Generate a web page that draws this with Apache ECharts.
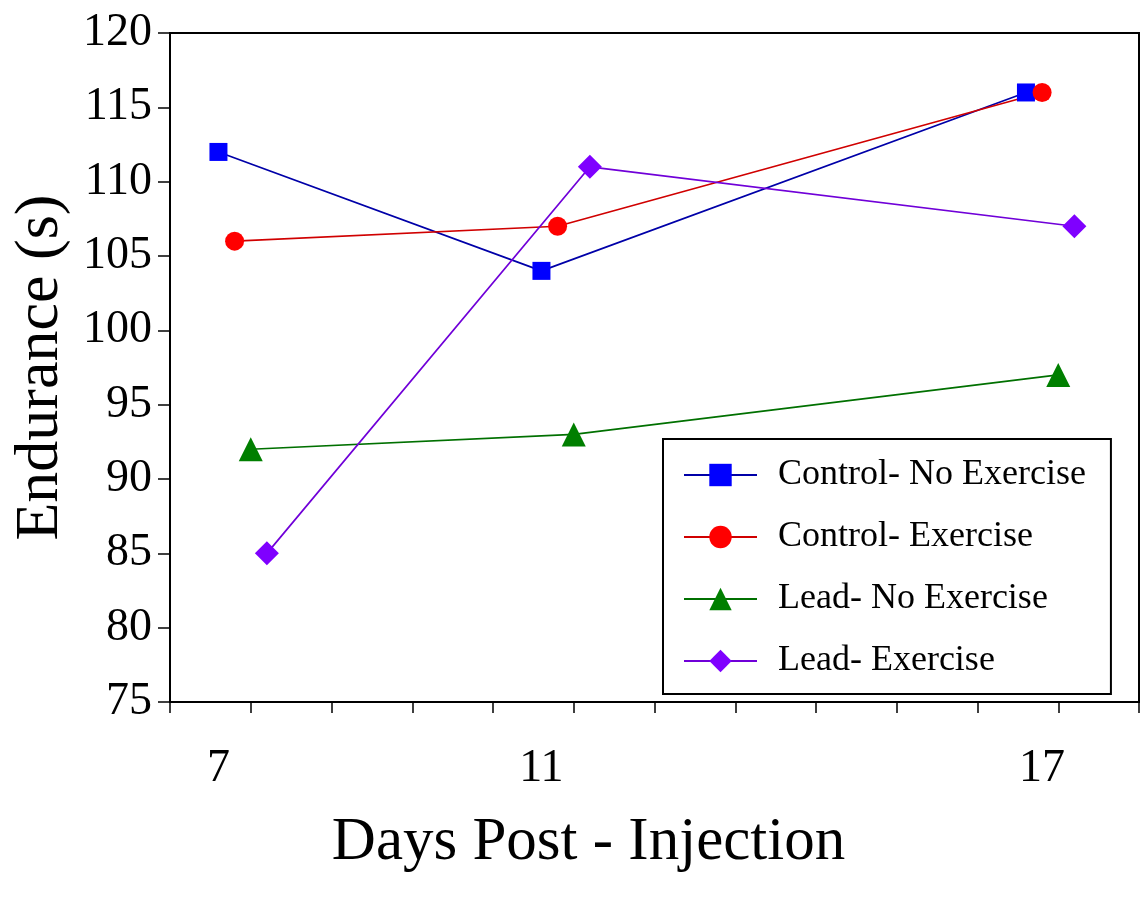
<!DOCTYPE html>
<html>
<head>
	<meta charset="UTF-8">
	<title>Endurance</title>
	<style type="text/css">
		html, body {
			margin: 0;
			padding: 0;
			background: #fff;
		}
		#chart {
			width: 1143px;
			height: 901px;
		}
	</style>
</head>
<body>
	<div id="chart"></div>

	<script type="text/javascript" src="https://cdn.jsdelivr.net/npm/echarts@6/dist/echarts.min.js"></script>
	<script type="text/javascript">
		// days on the x axis
		var days = [7, 11, 17]
		// series values
		var controlNoEx = [112, 104, 116]
		var controlEx = [106, 107, 116]
		var leadNoEx = [92, 93, 97]
		var leadEx = [85, 111, 107]
		var yTicks = [75, 80, 85, 90, 95, 100, 105, 110, 115, 120]

		var serif = "'Liberation Serif', 'Times New Roman', serif"

		// each group is drawn slightly shifted so the markers don't sit on top of each other
		function pts (vals, shift) {
			return vals.map(function (v, i) { return [days[i] + shift, v] })
		}

		function line (name, vals, shift, lineColor, dotColor, symbol, size) {
			return {
				name: name,
				type: 'line',
				data: pts(vals, shift),
				symbol: symbol,
				symbolSize: size,
				lineStyle: { color: lineColor, width: 1.7 },
				itemStyle: { color: dotColor },
				z: 3
			}
		}

		var chart = echarts.init(document.getElementById('chart'))

		var option = {
			animation: false,
			grid: {
				left: 170,
				right: 4,
				top: 33,
				bottom: 199,
				show: true,
				borderColor: '#000',
				borderWidth: 2
			},
			legend: {
				orient: 'vertical',
				left: 663,
				top: 439,
				padding: [18, 25, 15, 20],
				borderColor: '#000',
				borderWidth: 2,
				itemWidth: 73,
				itemHeight: 28,
				itemGap: 26,
				textStyle: {
					fontFamily: serif,
					fontSize: 36,
					color: '#000',
					padding: [0, 0, 0, 16]
				},
				data: ['Control- No Exercise', 'Control- Exercise', 'Lead- No Exercise', 'Lead- Exercise']
			},
			xAxis: {
				type: 'value',
				min: 6,
				max: 18,
				interval: 1,
				name: 'Days Post - Injection',
				nameLocation: 'middle',
				nameGap: 110,
				nameTextStyle: {
					fontFamily: serif,
					fontSize: 61,
					color: '#000',
					padding: [0, 132, 0, 0]
				},
				axisLine: { lineStyle: { color: '#000', width: 2 } },
				axisTick: { show: true, length: 11, lineStyle: { color: '#000', width: 1.5 } },
				axisLabel: {
					customValues: [days[0] - 0.4, days[1] - 0.4, days[2] - 0.2],
					formatter: function (v) { return String(Math.round(v)) },
					margin: 44,
					fontFamily: serif,
					fontSize: 46,
					color: '#000'
				},
				splitLine: { show: false }
			},
			yAxis: {
				type: 'value',
				min: yTicks[0],
				max: yTicks[yTicks.length - 1],
				interval: 5,
				name: 'Endurance (s)',
				nameLocation: 'middle',
				nameGap: 88,
				nameTextStyle: {
					fontFamily: serif,
					fontSize: 62,
					color: '#000'
				},
				axisLine: { show: true, lineStyle: { color: '#000', width: 2 } },
				axisTick: { show: true, length: 12, lineStyle: { color: '#000', width: 1.5 } },
				axisLabel: {
					margin: 18,
					fontFamily: serif,
					fontSize: 46,
					color: '#000'
				},
				splitLine: { show: false }
			},
			series: [
				line('Control- No Exercise', controlNoEx, -0.4, '#0000a8', '#0000ff', 'rect', 18),
				line('Control- Exercise', controlEx, -0.2, '#d00000', '#ff0000', 'circle', 19),
				line('Lead- No Exercise', leadNoEx, 0, '#007000', '#007f00', 'triangle', 24),
				line('Lead- Exercise', leadEx, 0.2, '#7000d8', '#7f00ff', 'diamond', 24)
			]
		}

		chart.setOption(option)
	</script>
</body>
</html>
